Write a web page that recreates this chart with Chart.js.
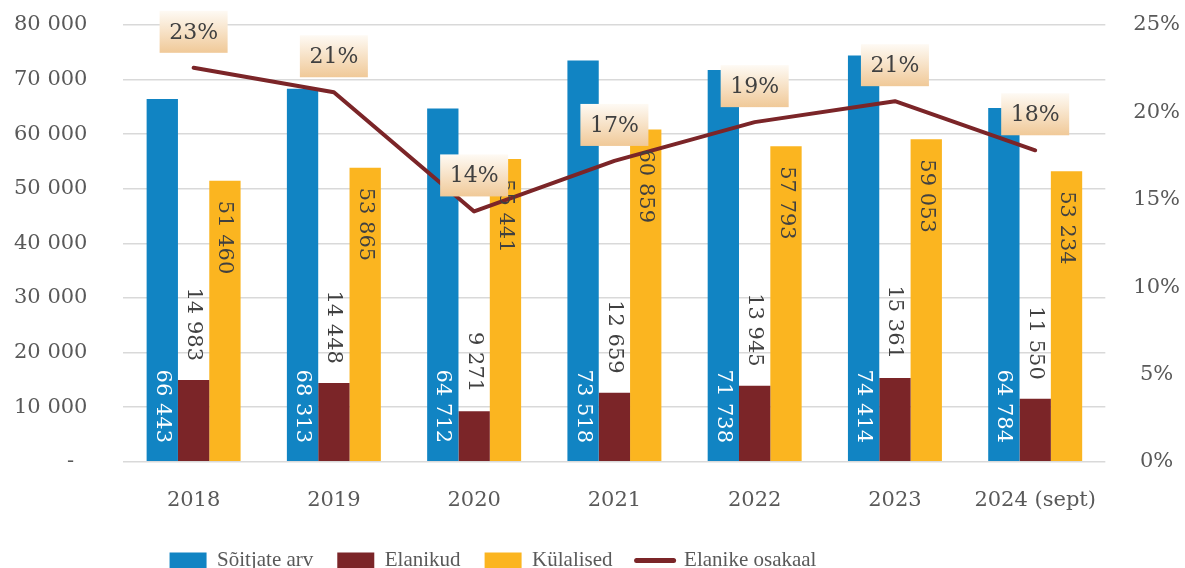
<!DOCTYPE html>
<html>
<head>
<meta charset="utf-8">
<script src="https://cdn.jsdelivr.net/npm/chart.js@4.4.1/dist/chart.umd.min.js"></script>
<style>
  html, body { margin: 0; padding: 0; background: #fff; overflow: hidden; }
  #wrap { position: relative; width: 1185px; height: 581px; }
</style>
</head>
<body>
<div id="wrap"><canvas id="chart"></canvas></div>
<script>
// data
const years = ['2018', '2019', '2020', '2021', '2022', '2023', '2024 (sept)'];
const passengers = [66443, 68313, 64712, 73518, 71738, 74414, 64784];
const residents = [14983, 14448, 9271, 12659, 13945, 15361, 11550];
const guests = [51460, 53865, 55441, 60859, 57793, 59053, 53234];
const residentShare = [0.2255, 0.2115, 0.1433, 0.1722, 0.1944, 0.2064, 0.1783];
const seriesNames = ['Sõitjate arv', 'Elanikud', 'Külalised', 'Elanike osakaal'];

// axis ranges
const leftMax = 80000, leftStep = 10000;
const rightMax = 0.25, rightStep = 0.05;

const colors = ['#1184c3', '#7b2528', '#fbb520', '#7b2528'];

const fmt = v => String(v).replace(/\B(?=(\d{3})+(?!\d))/g, ' ');
const pct = v => Math.round(v * 100) + '%';

Chart.defaults.font.family = '"DejaVu Serif", serif';
Chart.defaults.font.size = 21;
Chart.defaults.color = '#595959';

function drawVertical(ctx, text, x, y, align, color) {
    ctx.save();
    ctx.translate(x, y);
    ctx.rotate(Math.PI / 2);
    ctx.textAlign = align;
    ctx.textBaseline = 'middle';
    ctx.fillStyle = color;
    ctx.fillText(text, 0, 0);
    ctx.restore();
}

//labels on bars and line
const labelPlugin = {
    id: 'valueLabels',
    afterDatasetsDraw(chart) {
        const ctx = chart.ctx;
        ctx.save();
        ctx.font = '21px "DejaVu Serif"';
        chart.getDatasetMeta(0).data.forEach((bar, i) => {
            drawVertical(ctx, fmt(passengers[i]), bar.x, bar.base - 18, 'right', '#ffffff');
        });
        chart.getDatasetMeta(1).data.forEach((bar, i) => {
            drawVertical(ctx, fmt(residents[i]), bar.x, bar.y - 19, 'right', '#404040');
        });
        chart.getDatasetMeta(2).data.forEach((bar, i) => {
            drawVertical(ctx, fmt(guests[i]), bar.x, bar.y + 20, 'left', '#404040');
        });
        //percent boxes
        ctx.font = '22px "DejaVu Serif"';
        ctx.textAlign = 'center';
        ctx.textBaseline = 'middle';
        chart.getDatasetMeta(3).data.forEach((pt, i) => {
            const w = 68, h = 42;
            const cx = pt.x, cy = pt.y - 36;
            const g = ctx.createLinearGradient(0, cy - h / 2, 0, cy + h / 2);
            g.addColorStop(0, '#fefaf4');
            g.addColorStop(1, '#f0c998');
            ctx.fillStyle = g;
            ctx.fillRect(cx - w / 2, cy - h / 2, w, h);
            ctx.fillStyle = '#404040';
            ctx.fillText(pct(residentShare[i]), cx, cy + 1);
        });
        ctx.restore();
    }
};

//move the legend a bit to the left like in the original
const legendShift = {
    id: 'legendShift',
    afterLayout(chart) {
        const lg = chart.legend;
        lg.left -= 104;
        lg.right -= 104;
    }
};

new Chart(document.getElementById('chart'), {
    plugins: [labelPlugin, legendShift],
    data: {
        labels: years,
        datasets: [
            { type: 'bar', label: seriesNames[0], data: passengers, backgroundColor: colors[0], yAxisID: 'y', order: 2 },
            { type: 'bar', label: seriesNames[1], data: residents, backgroundColor: colors[1], yAxisID: 'y', order: 2 },
            { type: 'bar', label: seriesNames[2], data: guests, backgroundColor: colors[2], yAxisID: 'y', order: 2 },
            {
                type: 'line', label: seriesNames[3], data: residentShare, borderColor: colors[3],
                backgroundColor: colors[3], borderWidth: 4, pointRadius: 0, tension: 0,
                borderCapStyle: 'round', borderJoinStyle: 'round', yAxisID: 'y2', order: 1
            }
        ]
    },
    options: {
        responsive: true,
        maintainAspectRatio: false,
        animation: false,
        datasets: {
            bar: { categoryPercentage: 0.67, barPercentage: 1.0 }
        },
        layout: { padding: { left: 14, right: 5, top: 25, bottom: 0 } },
        scales: {
            x: {
                border: { display: false },
                grid: { display: true, drawOnChartArea: false, tickLength: 26, tickColor: 'transparent' },
                ticks: { padding: 0, color: '#595959' },
                afterFit: axis => { axis.height += 13; }
            },
            y: {
                position: 'left',
                min: 0, max: leftMax,
                border: { display: false },
                grid: { color: '#d9d9d9', lineWidth: 1.5, tickLength: 36, tickColor: 'transparent' },
                ticks: {
                    stepSize: leftStep,
                    padding: 0,
                    callback: v => v === 0 ? '-  ' : fmt(v)
                }
            },
            y2: {
                position: 'right',
                min: 0, max: rightMax,
                border: { display: false },
                grid: { display: true, drawOnChartArea: false, tickLength: 28, tickColor: 'transparent' },
                ticks: {
                    stepSize: rightStep,
                    padding: 0,
                    crossAlign: 'center',
                    callback: v => pct(v)
                }
            }
        },
        plugins: {
            tooltip: { enabled: false },
            legend: {
                position: 'bottom',
                labels: {
                    usePointStyle: true,
                    pointStyleWidth: 37,
                    boxHeight: 16,
                    padding: 24,
                    color: '#595959',
                    font: { family: '"Liberation Serif", serif', size: 21 },
                    sort: (a, b) => a.datasetIndex - b.datasetIndex,
                    generateLabels(chart) {
                        const items = Chart.defaults.plugins.legend.labels.generateLabels(chart);
                        items.forEach(it => {
                            if (it.datasetIndex === 3) {
                                it.pointStyle = 'line';
                                it.lineWidth = 5;
                                it.lineCap = 'round';
                                it.strokeStyle = colors[3];
                            } else {
                                it.pointStyle = 'rect';
                                it.lineWidth = 0;
                            }
                        });
                        return items;
                    }
                }
            }
        }
    }
});
</script>
</body>
</html>
